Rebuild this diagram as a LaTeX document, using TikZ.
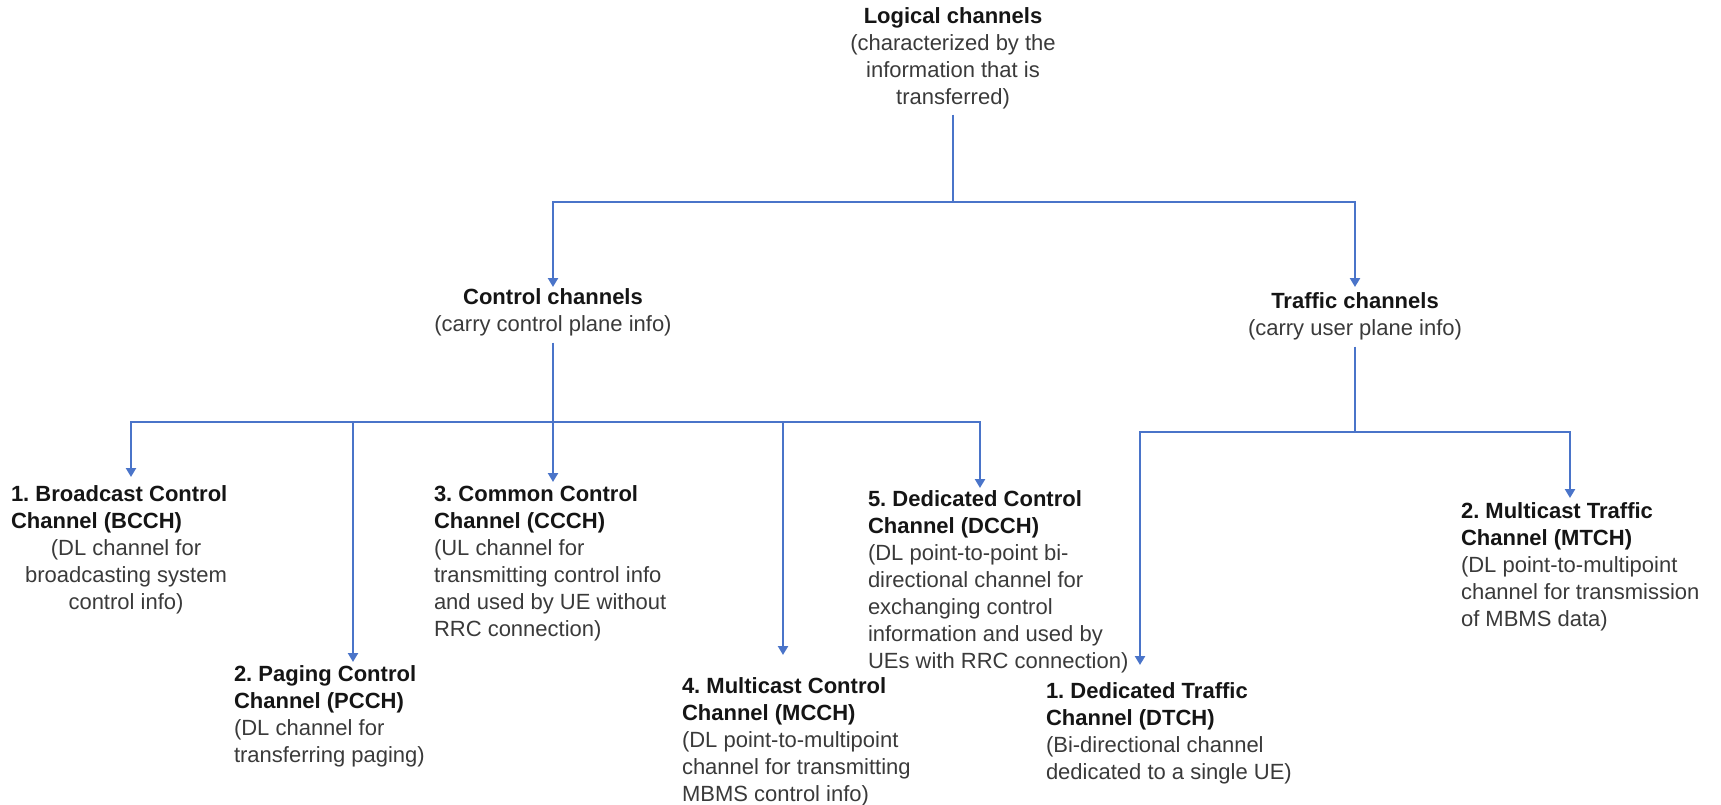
\documentclass[tikz,border=0pt]{standalone}
\usepackage{fontspec}
\setmainfont{Liberation Sans}
\usetikzlibrary{arrows.meta}
\definecolor{lineblue}{HTML}{4A74C9}
\definecolor{desccol}{HTML}{3A3A3A}
\definecolor{headcol}{HTML}{151515}
\newcommand{\Desc}[1]{\textcolor{desccol}{#1}}
\newcommand{\Head}[1]{\textcolor{headcol}{\textbf{#1}}}
\frenchspacing
\begin{document}
\begin{tikzpicture}[x=1pt,y=-1pt,
  every node/.style={inner sep=0pt, outer sep=0pt, font=\fontsize{22pt}{27pt}\selectfont\frenchspacing},
  item/.style={anchor=north west, align=left},
  headnode/.style={anchor=north, align=center},
  conn/.style={draw=lineblue, line width=2.8pt},
  arr/.style={conn, -{Triangle[width=10pt,length=9pt]}}]
\useasboundingbox (0,0) rectangle (1721,804);

% top level
\node[headnode] (logical) at (953,8) {\Head{Logical channels}\\\Desc{(characterized by the}\\\Desc{information that is}\\\Desc{transferred)}};
\node[headnode] (ctrl) at (553,289) {\Head{Control channels}\\\Desc{(carry control plane info)}};
\node[headnode] (traf) at (1355,293) {\Head{Traffic channels}\\\Desc{(carry user plane info)}};

% control channel items
\node[item] (bcch) at (11,486) {\Head{1. Broadcast Control}\\\Head{Channel (BCCH)}\\\makebox[230pt]{\Desc{(DL channel for}}\\\makebox[230pt]{\Desc{broadcasting system}}\\\makebox[230pt]{\Desc{control info)}}};
\node[item] (pcch) at (234,666) {\Head{2. Paging Control}\\\Head{Channel (PCCH)}\\\Desc{(DL channel for}\\\Desc{transferring paging)}};
\node[item] (ccch) at (434,486) {\Head{3. Common Control}\\\Head{Channel (CCCH)}\\\Desc{(UL channel for}\\\Desc{transmitting control info}\\\Desc{and used by UE without}\\\Desc{RRC connection)}};
\node[item] (mcch) at (682,678) {\Head{4. Multicast Control}\\\Head{Channel (MCCH)}\\\Desc{(DL point-to-multipoint}\\\Desc{channel for transmitting}\\\Desc{MBMS control info)}};
\node[item] (dcch) at (868,491) {\Head{5. Dedicated Control}\\\Head{Channel (DCCH)}\\\Desc{(DL point-to-point bi-}\\\Desc{directional channel for}\\\Desc{exchanging control}\\\Desc{information and used by}\\\Desc{UEs with RRC connection)}};

% traffic channel items
\node[item] (dtch) at (1046,683) {\Head{1. Dedicated Traffic}\\\Head{Channel (DTCH)}\\\Desc{(Bi-directional channel}\\\Desc{dedicated to a single UE)}};
\node[item] (mtch) at (1461,503) {\Head{2. Multicast Traffic}\\\Head{Channel (MTCH)}\\\Desc{(DL point-to-multipoint}\\\Desc{channel for transmission}\\\Desc{of MBMS data)}};

% junctions and arrow targets
\coordinate (j0) at (953,202);
\coordinate (tctrl) at (553,287);
\coordinate (ttraf) at (1355,287);
\coordinate (j1) at (553,422);
\coordinate (tbcch) at (131,477);
\coordinate (tpcch) at (353,662);
\coordinate (tccch) at (553,482);
\coordinate (tmcch) at (783,655);
\coordinate (tdcch) at (980,488);
\coordinate (j2) at (1355,432);
\coordinate (tdtch) at (1140,665);
\coordinate (tmtch) at (1570,498);

% connectors
\draw[conn, shorten <=5pt] (logical.south) -- (j0);
\draw[arr] (j0) -| (tctrl);
\draw[arr] (j0) -| (ttraf);

\draw[conn, shorten <=6pt] (ctrl.south) -- (j1);
\draw[arr] (j1) -| (tbcch);
\draw[arr] (j1) -| (tpcch);
\draw[arr] (j1) -- (tccch);
\draw[arr] (j1) -| (tmcch);
\draw[arr] (j1) -| (tdcch);

\draw[conn, shorten <=6pt] (traf.south) -- (j2);
\draw[arr] (j2) -| (tdtch);
\draw[arr] (j2) -| (tmtch);
\end{tikzpicture}
\end{document}
